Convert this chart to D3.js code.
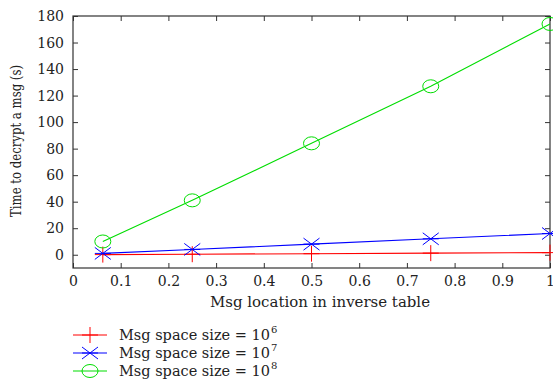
<!DOCTYPE html>
<html>
<head>
<meta charset="utf-8">
<script src="https://cdn.jsdelivr.net/npm/d3@7"></script>
<style>
	body{margin:0;background:#fff;}
	text{font-family:"DejaVu Serif","Liberation Serif",serif;fill:#222;}
</style>
</head>
<body>
<svg id="chart" width="553" height="381"></svg>
<script>
// data
const xValues = [0.0625, 0.25, 0.5, 0.75, 1];
const size6 = [0.1, 0.4, 0.8, 1.2, 1.6];
const size7 = [1, 4, 8, 12, 16];
const size8 = [10, 41, 84, 127, 174];
const xTicks = [0, 0.1, 0.2, 0.3, 0.4, 0.5, 0.6, 0.7, 0.8, 0.9, 1];
const yTicks = [0, 20, 40, 60, 80, 100, 120, 140, 160, 180];
const seriesNames = ["6", "7", "8"];
const seriesColors = ["#ff0000", "#0000ff", "#00dd00"];

let svg = d3.select("#chart"),
	plotLeft = 73, plotRight = 550, plotTop = 16, plotBottom = 268,
	x = d3.scaleLinear().domain([0, 1]).range([plotLeft, plotRight]),
	y = d3.scaleLinear().domain([-10, 180]).range([plotBottom, plotTop]),
	tickLen = 5,
	fmt = d => d === 0 ? "0" : d === 1 ? "1" : d3.format(".1f")(d);

// inward ticks on all four sides, gnuplot style
let gB = svg.append("g").attr("transform", "translate(0," + plotBottom + ")")
	.call(d3.axisBottom(x).tickValues(xTicks).tickFormat(fmt).tickSizeInner(-tickLen).tickSizeOuter(0).tickPadding(8));
let gT = svg.append("g").attr("transform", "translate(0," + plotTop + ")")
	.call(d3.axisTop(x).tickValues(xTicks).tickFormat("").tickSizeInner(-tickLen).tickSizeOuter(0));
let gL = svg.append("g").attr("transform", "translate(" + plotLeft + ",0)")
	.call(d3.axisLeft(y).tickValues(yTicks).tickSizeInner(-tickLen).tickSizeOuter(0).tickPadding(9));
let gR = svg.append("g").attr("transform", "translate(" + plotRight + ",0)")
	.call(d3.axisRight(y).tickValues(yTicks).tickFormat("").tickSizeInner(-tickLen).tickSizeOuter(0));
[gB, gT, gL, gR].forEach(function(g){
	g.select(".domain").remove();
	g.selectAll("line").attr("stroke", "#333");
	g.selectAll("text").style("font-size", "14px").attr("fill", "#222");
});

svg.append("rect").attr("x", plotLeft).attr("y", plotTop)
	.attr("width", plotRight - plotLeft).attr("height", plotBottom - plotTop)
	.attr("fill", "none").attr("stroke", "#333").attr("stroke-width", 1.2);

// axis titles
svg.append("text").attr("x", 320).attr("y", 307)
	.attr("text-anchor", "middle").style("font-size", "14px")
	.attr("textLength", 220).attr("lengthAdjust", "spacingAndGlyphs")
	.text("Msg location in inverse table");
svg.append("text").attr("transform", "translate(21,141) rotate(-90)")
	.attr("text-anchor", "middle").style("font-size", "14px")
	.attr("textLength", 152).attr("lengthAdjust", "spacingAndGlyphs")
	.text("Time to decrypt a msg (s)");

function drawMarker(g, kind, cx, cy, color){
	if(kind === 0){
		g.append("path").attr("d", "M" + (cx - 8) + "," + cy + "H" + (cx + 8) + "M" + cx + "," + (cy - 8) + "V" + (cy + 8))
			.attr("stroke", color).attr("fill", "none");
	}
	else if(kind === 1){
		g.append("path").attr("d", "M" + (cx - 8) + "," + (cy - 6) + "L" + (cx + 8) + "," + (cy + 6) + "M" + (cx - 8) + "," + (cy + 6) + "L" + (cx + 8) + "," + (cy - 6) + "M" + (cx - 8) + "," + cy + "H" + (cx + 8))
			.attr("stroke", color).attr("fill", "none");
	}
	else{
		g.append("ellipse").attr("cx", cx).attr("cy", cy).attr("rx", 8).attr("ry", 6.5)
			.attr("stroke", color).attr("fill", "none");
	}
}

let allSeries = [size6, size7, size8],
	line = d3.line().x((d, i) => x(xValues[i])).y(d => y(d)),
	plot = svg.append("g");

allSeries.forEach(function(vals, s){
	plot.append("path").datum(vals).attr("d", line)
		.attr("fill", "none").attr("stroke", seriesColors[s]).attr("stroke-width", 1.1);
	vals.forEach(function(v, i){
		drawMarker(plot, s, x(xValues[i]), y(v), seriesColors[s]);
	});
});

// legend below the plot
let legend = svg.append("g");
seriesNames.forEach(function(name, s){
	let ly = 335 + s * 18;
	legend.append("line").attr("x1", 73).attr("x2", 107).attr("y1", ly).attr("y2", ly)
		.attr("stroke", seriesColors[s]).attr("stroke-width", 1.1);
	drawMarker(legend, s, 90, ly, seriesColors[s]);
	legend.append("text").attr("x", 119).attr("y", ly + 5).style("font-size", "14px")
		.attr("textLength", 151).attr("lengthAdjust", "spacingAndGlyphs")
		.text("Msg space size = 10");
	legend.append("text").attr("x", 271).attr("y", ly - 2).style("font-size", "10px").text(name);
});
</script>
</body>
</html>
